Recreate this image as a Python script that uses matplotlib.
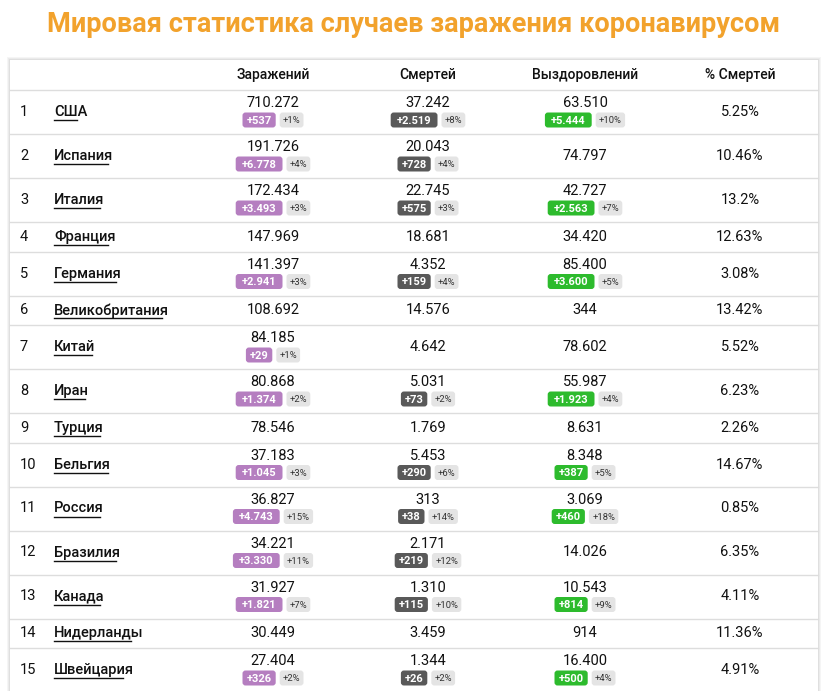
import matplotlib.pyplot as plt
from matplotlib.patches import FancyBboxPatch, Rectangle

plt.rcParams['font.family'] = 'Roboto'

title = 'Мировая статистика случаев заражения коронавирусом'
headers = ['Заражений', 'Смертей', 'Выздоровлений', '% Смертей']

countries = ['США', 'Испания', 'Италия', 'Франция', 'Германия', 'Великобритания', 'Китай',
             'Иран', 'Турция', 'Бельгия', 'Россия', 'Бразилия', 'Канада', 'Нидерланды', 'Швейцария']
infected = ['710.272', '191.726', '172.434', '147.969', '141.397', '108.692', '84.185',
            '80.868', '78.546', '37.183', '36.827', '34.221', '31.927', '30.449', '27.404']
infected_new = ['+537', '+6.778', '+3.493', None, '+2.941', None, '+29',
                '+1.374', None, '+1.045', '+4.743', '+3.330', '+1.821', None, '+326']
infected_pct = ['+1%', '+4%', '+3%', None, '+3%', None, '+1%',
                '+2%', None, '+3%', '+15%', '+11%', '+7%', None, '+2%']
deaths = ['37.242', '20.043', '22.745', '18.681', '4.352', '14.576', '4.642',
          '5.031', '1.769', '5.453', '313', '2.171', '1.310', '3.459', '1.344']
deaths_new = ['+2.519', '+728', '+575', None, '+159', None, None,
              '+73', None, '+290', '+38', '+219', '+115', None, '+26']
deaths_pct = ['+8%', '+4%', '+3%', None, '+4%', None, None,
              '+2%', None, '+6%', '+14%', '+12%', '+10%', None, '+2%']
recovered = ['63.510', '74.797', '42.727', '34.420', '85.400', '344', '78.602',
             '55.987', '8.631', '8.348', '3.069', '14.026', '10.543', '914', '16.400']
recovered_new = ['+5.444', None, '+2.563', None, '+3.600', None, None,
                 '+1.923', None, '+387', '+460', None, '+814', None, '+500']
recovered_pct = ['+10%', None, '+7%', None, '+5%', None, None,
                 '+4%', None, '+5%', '+18%', None, '+9%', None, '+4%']
death_rate = ['5.25%', '10.46%', '13.2%', '12.63%', '3.08%', '13.42%', '5.52%',
              '6.23%', '2.26%', '14.67%', '0.85%', '6.35%', '4.11%', '11.36%', '4.91%']

W, H = 828, 691
fig = plt.figure(figsize=(W / 100, H / 100), dpi=100)
ax = fig.add_axes([0, 0, 1, 1])
ax.set_xlim(0, W)
ax.set_ylim(H, 0)
ax.axis('off')
fig.patch.set_facecolor('white')

ax.text(W / 2, 24, title, ha='center', va='center', fontsize=19.5, fontweight='bold', color='#f2a22c')

# card with soft shadow
for i, a in enumerate([0.04, 0.04, 0.05]):
    ax.add_patch(Rectangle((10 - 3 + i, 60 - 3 + i), 808 + 6 - 2 * i, 640, color='black', alpha=a, lw=0))
ax.add_patch(Rectangle((10, 60), 808, 640, color='white', lw=0))

col_x = [273, 428, 585, 740]
for x, h in zip(col_x, headers):
    ax.text(x, 75, h, ha='center', va='center', fontsize=10, fontweight='medium', color='#111')
ax.plot([10, 818], [90, 90], color='#dddddd', lw=1)


def badge_pair(cx, cy, new, pct, color):
    w1 = 6.8 * len(new) + 6
    w2 = 5.6 * len(pct) + 7
    start = cx - (w1 + 4 + w2) / 2
    ax.add_patch(FancyBboxPatch((start, cy - 7.5), w1, 15, boxstyle='round,pad=0,rounding_size=3',
                                color=color, lw=0))
    ax.text(start + w1 / 2, cy + 0.5, new, ha='center', va='center', fontsize=8,
            fontweight='bold', color='white')
    s2 = start + w1 + 4
    ax.add_patch(FancyBboxPatch((s2, cy - 7.5), w2, 15, boxstyle='round,pad=0,rounding_size=3',
                                color='#e4e4e4', lw=0))
    ax.text(s2 + w2 / 2, cy + 0.5, pct, ha='center', va='center', fontsize=6.8, color='#333')


y = 90
for i in range(len(countries)):
    tall = any(v is not None for v in (infected_new[i], deaths_new[i], recovered_new[i]))
    h = 44 if tall else 29.5
    mid = y + h / 2
    ax.text(20, mid, str(i + 1), ha='left', va='center', fontsize=10.5, color='#111')
    ax.text(54, mid, countries[i], ha='left', va='center', fontsize=10.5, fontweight='medium', color='#111')
    tw = 7.7 * len(countries[i])
    ax.plot([54, 54 + tw], [mid + 8, mid + 8], color='#111', lw=1)
    cols = [(infected, infected_new, infected_pct, '#b57ec0'),
            (deaths, deaths_new, deaths_pct, '#595959'),
            (recovered, recovered_new, recovered_pct, '#2dbb2d')]
    for x, (vals, news, pcts, c) in zip(col_x, cols):
        if news[i] is not None:
            ax.text(x, y + 13, vals[i], ha='center', va='center', fontsize=10.5, color='#111')
            badge_pair(x, y + 30, news[i], pcts[i], c)
        else:
            ax.text(x, mid, vals[i], ha='center', va='center', fontsize=10.5, color='#111')
    ax.text(col_x[3], mid, death_rate[i], ha='center', va='center', fontsize=10.5, color='#111')
    y += h
    ax.plot([10, 818], [y, y], color='#dddddd', lw=1)

fig.savefig('out.png', dpi=100)
